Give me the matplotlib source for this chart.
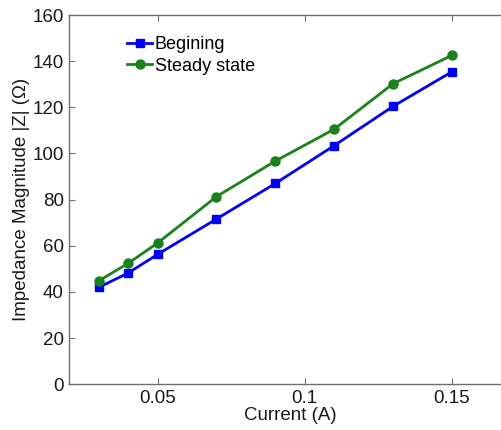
import matplotlib
matplotlib.use("Agg")
import matplotlib.pyplot as plt

plt.rcParams['font.family'] = ['Liberation Sans', 'DejaVu Sans']

current = [0.03, 0.04, 0.05, 0.07, 0.09, 0.11, 0.13, 0.15]
z_begin = [42.0, 48.2, 56.3, 71.6, 87.0, 103.4, 120.4, 135.4]
z_steady = [44.8, 52.4, 61.2, 81.3, 96.7, 110.5, 130.2, 142.5]
xticks = [0.05, 0.1, 0.15]
xtick_labels = ['0.05', '0.1', '0.15']
yticks = [0, 20, 40, 60, 80, 100, 120, 140, 160]

fig = plt.figure(figsize=(5.01, 4.30), dpi=100)
ax = fig.add_axes([0.1383, 0.1063, 0.881, 0.8588])

ax.plot(current, z_begin, '-s', color='#0000ff', lw=2, ms=6, label='Begining')
ax.plot(current, z_steady, '-o', color='#1a821a', lw=2, ms=6.5, label='Steady state')

ax.set_xlim(0.02, 0.17)
ax.set_ylim(0, 160)
ax.set_xticks(xticks)
ax.set_xticklabels(xtick_labels)
ax.set_yticks(yticks)

for s in ax.spines.values():
    s.set_color('#6e6e6e')
    s.set_linewidth(1.0)
ax.tick_params(direction='in', top=True, right=True, length=4, width=0.8,
               color='#6e6e6e', labelsize=13.5, labelcolor='#1a1a1a', pad=4)

ax.set_xlabel('Current (A)', fontsize=13.5, color='#1a1a1a', labelpad=0)
ax.set_ylabel('Impedance Magnitude |Z| (\u03a9)', fontsize=13.5, color='#1a1a1a', labelpad=2)

ax.legend(loc='upper left', bbox_to_anchor=(0.1307, 0.942), frameon=False,
          fontsize=13, handlelength=1.4, handletextpad=0.15, labelspacing=0.24,
          borderpad=0, borderaxespad=0)

fig.savefig('out.png', dpi=100)
